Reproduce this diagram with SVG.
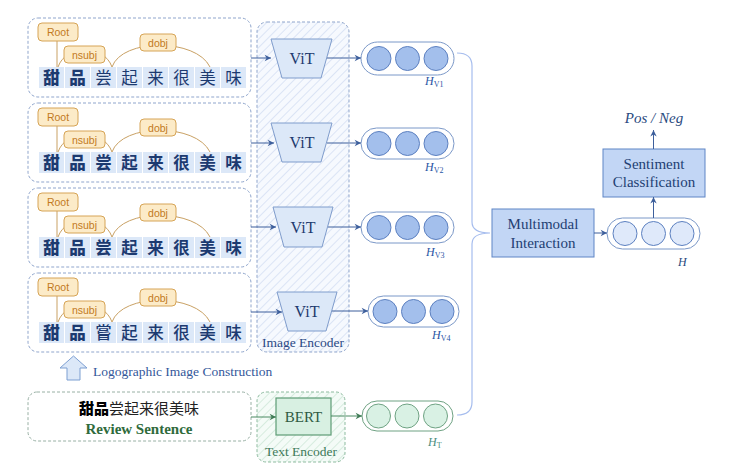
<svg xmlns="http://www.w3.org/2000/svg" width="745" height="476" viewBox="0 0 745 476">
<defs>
<style>
.panel{fill:#fff;stroke:#8fa5cc;stroke-width:1;stroke-dasharray:3,2}
.cell{fill:#dce8f8}
.ch{font-family:"Noto Sans CJK SC",sans-serif;font-size:16.5px;fill:#1c3a70;text-anchor:middle}
.lab{fill:#fcebc8;stroke:#d6a456;stroke-width:1}
.labt{font-family:"Liberation Sans",Arial,sans-serif;font-size:10.5px;fill:#c27a1e;text-anchor:middle}
.arc{fill:none;stroke:#c9a164;stroke-width:1}
.vit{fill:#dce8f8;stroke:#7f9ccc;stroke-width:1}
.ser{font-family:"Liberation Serif","Times New Roman",serif}
.vitt{font-size:16px;fill:#1e3a6e;text-anchor:middle}
.cap{fill:#fff;stroke:#7b98c8;stroke-width:1}
.cir{fill:#a3bfec;stroke:#5c80c0;stroke-width:1}
.cap2{fill:#fff;stroke:#6fa283;stroke-width:1}
.cir2{fill:#d9f1e4;stroke:#6fa283;stroke-width:1}
.cir3{fill:#dfe9fa;stroke:#5c80c0;stroke-width:1}
.hl{font-family:"Liberation Serif",serif;font-style:italic;font-size:12px;fill:#2a55a5}
.hs{font-size:8px;font-style:normal}
.ar{fill:none;stroke:#3d5f9c;stroke-width:1}
.arg{fill:none;stroke:#4a8a62;stroke-width:1}
.box{fill:#c2d6f5;stroke:#5f85c5;stroke-width:1}
.boxt{font-size:15px;fill:#233f73;text-anchor:middle}
</style>
<pattern id="hb" width="6" height="6" patternUnits="userSpaceOnUse" patternTransform="rotate(45)">
<rect width="6" height="6" fill="#f6f9fe"/>
<line x1="0" y1="0" x2="0" y2="6" stroke="#c9d7ef" stroke-width="1.2"/>
</pattern>
<pattern id="hg" width="6" height="6" patternUnits="userSpaceOnUse" patternTransform="rotate(45)">
<rect width="6" height="6" fill="#f4fbf7"/>
<line x1="0" y1="0" x2="0" y2="6" stroke="#c4e3d0" stroke-width="1.2"/>
</pattern>
<marker id="ma" viewBox="0 0 10 10" refX="9" refY="5" markerWidth="8" markerHeight="8" orient="auto" markerUnits="userSpaceOnUse">
<path d="M1,1 L9,5 L1,9 L3.5,5 Z" fill="#3d5f9c"/>
</marker>
<marker id="mg" viewBox="0 0 10 10" refX="9" refY="5" markerWidth="8" markerHeight="8" orient="auto" markerUnits="userSpaceOnUse">
<path d="M1,1 L9,5 L1,9 L3.5,5 Z" fill="#3f7a55"/>
</marker>
<g id="tree">
<rect class="panel" x="28" y="18" width="223" height="79" rx="10"/>
<g>
<rect class="cell" x="39" y="67" width="25" height="21"/>
<rect class="cell" x="65" y="67" width="25" height="21"/>
<rect class="cell" x="91" y="67" width="25" height="21"/>
<rect class="cell" x="117" y="67" width="25" height="21"/>
<rect class="cell" x="143" y="67" width="25" height="21"/>
<rect class="cell" x="169" y="67" width="25" height="21"/>
<rect class="cell" x="195" y="67" width="25" height="21"/>
<rect class="cell" x="221" y="67" width="25" height="21"/>
</g>
<line class="arc" x1="57" y1="41" x2="57" y2="67"/>
<path class="arc" d="M58,67 C66,44 104,44 112,67"/>
<path class="arc" d="M112,67 C122,38 196,38 210,67"/>
<rect class="lab" x="38" y="23" width="40" height="18" rx="4"/>
<text class="labt" x="58" y="36">Root</text>
<rect class="lab" x="64" y="46" width="41" height="17" rx="4"/>
<text class="labt" x="84.5" y="58.5">nsubj</text>
<rect class="lab" x="140" y="34" width="36" height="17" rx="4"/>
<text class="labt" x="158" y="46.5">dobj</text>
</g>
</defs>

<!-- encoders backgrounds -->
<g id="image-encoder">
<rect x="257" y="22" width="92" height="330" rx="10" fill="url(#hb)" stroke="#8fa5cc" stroke-dasharray="3,2"/>
<text class="ser" x="303" y="347" font-size="13.5" fill="#2b4a85" text-anchor="middle">Image Encoder</text>
</g>
<g id="text-encoder">
<rect x="257" y="392" width="88" height="70" rx="9" fill="url(#hg)" stroke="#8dbb9f" stroke-dasharray="3,2"/>
<text class="ser" x="301" y="456" font-size="13.5" fill="#3e7a5a" text-anchor="middle">Text Encoder</text>
</g>

<!-- panels -->
<g id="panel1">
<use href="#tree"/>
<g class="ch">
<text x="51.5" y="84" font-weight="900">甜</text><text x="77.5" y="84" font-weight="900">品</text><text x="103.5" y="84">尝</text><text x="129.5" y="84">起</text><text x="155.5" y="84">来</text><text x="181.5" y="84">很</text><text x="207.5" y="84">美</text><text x="233.5" y="84">味</text>
</g>
</g>
<g id="panel2" transform="translate(0,85)">
<use href="#tree"/>
<g class="ch" font-weight="700">
<text x="51.5" y="84" font-weight="900">甜</text><text x="77.5" y="84" font-weight="900">品</text><text x="103.5" y="84">尝</text><text x="129.5" y="84">起</text><text x="155.5" y="84">来</text><text x="181.5" y="84">很</text><text x="207.5" y="84">美</text><text x="233.5" y="84">味</text>
</g>
</g>
<g id="panel3" transform="translate(0,170)">
<use href="#tree"/>
<g class="ch" font-weight="700">
<text x="51.5" y="84" font-weight="900">甜</text><text x="77.5" y="84" font-weight="900">品</text><text x="103.5" y="84">尝</text><text x="129.5" y="84">起</text><text x="155.5" y="84">来</text><text x="181.5" y="84">很</text><text x="207.5" y="84">美</text><text x="233.5" y="84">味</text>
</g>
</g>
<g id="panel4" transform="translate(0,255)">
<use href="#tree"/>
<g class="ch" font-weight="500">
<text x="51.5" y="84" font-weight="900">甜</text><text x="77.5" y="84" font-weight="900">品</text><text x="103.5" y="84">嘗</text><text x="129.5" y="84">起</text><text x="155.5" y="84">来</text><text x="181.5" y="84">很</text><text x="207.5" y="84">美</text><text x="233.5" y="84">味</text>
</g>
</g>

<!-- ViT nodes -->
<g id="vit1"><path class="vit" d="M271,39 L332,39 L321,78 L282,78 Z"/><text class="ser vitt" x="302" y="64">ViT</text></g>
<g id="vit2"><path class="vit" d="M271,123 L332,123 L321,162 L282,162 Z"/><text class="ser vitt" x="302" y="148">ViT</text></g>
<g id="vit3"><path class="vit" d="M273,207 L333,207 L322,247 L284,247 Z"/><text class="ser vitt" x="303" y="233">ViT</text></g>
<g id="vit4"><path class="vit" d="M277,292 L337,292 L326,331 L288,331 Z"/><text class="ser vitt" x="307" y="317">ViT</text></g>

<!-- H_V capsules -->
<g id="hv1">
<rect class="cap" x="361" y="42" width="93" height="33" rx="16.5"/>
<circle class="cir" cx="379" cy="58.5" r="12"/><circle class="cir" cx="407.5" cy="58.5" r="12"/><circle class="cir" cx="436" cy="58.5" r="12"/>
<text class="hl" x="425" y="85">H<tspan class="hs" dy="2">V1</tspan></text>
</g>
<g id="hv2">
<rect class="cap" x="361" y="128" width="93" height="31" rx="15.5"/>
<circle class="cir" cx="379" cy="143.5" r="12"/><circle class="cir" cx="407.5" cy="143.5" r="12"/><circle class="cir" cx="436" cy="143.5" r="12"/>
<text class="hl" x="425" y="171">H<tspan class="hs" dy="2">V2</tspan></text>
</g>
<g id="hv3">
<rect class="cap" x="361" y="212" width="93" height="31" rx="15.5"/>
<circle class="cir" cx="379" cy="227.5" r="12"/><circle class="cir" cx="407.5" cy="227.5" r="12"/><circle class="cir" cx="436" cy="227.5" r="12"/>
<text class="hl" x="426" y="256">H<tspan class="hs" dy="2">V3</tspan></text>
</g>
<g id="hv4">
<rect class="cap" x="368" y="296" width="91" height="31" rx="15.5"/>
<circle class="cir" cx="385" cy="311.5" r="12"/><circle class="cir" cx="413.5" cy="311.5" r="12"/><circle class="cir" cx="442" cy="311.5" r="12"/>
<text class="hl" x="432" y="339">H<tspan class="hs" dy="2">V4</tspan></text>
</g>

<!-- Logographic arrow -->
<g id="logo">
<path d="M73.5,356 L87,368 L80,368 L80,380 L67,380 L67,368 L60,368 Z" fill="#dce8f8" stroke="#7d9fd2" stroke-width="1"/>
<text class="ser" x="93" y="376" font-size="13.5" fill="#34579a">Logographic Image Construction</text>
</g>

<!-- Review sentence -->
<g id="review">
<rect x="28" y="392" width="223" height="49" rx="9" fill="#fff" stroke="#98b0a4" stroke-dasharray="3,2"/>
<text x="139" y="414" font-family="'Noto Sans CJK SC',sans-serif" font-size="15" text-anchor="middle" fill="#222"><tspan font-weight="900" fill="#000">甜品</tspan>尝起来很美味</text>
<text class="ser" x="139" y="434" font-size="15" font-weight="bold" fill="#2f6b3c" text-anchor="middle">Review Sentence</text>
</g>

<!-- BERT -->
<g id="bert">
<rect x="276" y="398" width="55" height="37" fill="#d8f0e2" stroke="#5e9c76" stroke-width="1.2"/>
<text class="ser" x="303.5" y="422" font-size="15" fill="#2f5a42" text-anchor="middle">BERT</text>
</g>

<!-- H_T -->
<g id="ht">
<rect class="cap2" x="362" y="401" width="91" height="30" rx="15"/>
<circle class="cir2" cx="378.5" cy="416" r="12"/><circle class="cir2" cx="407" cy="416" r="12"/><circle class="cir2" cx="435.5" cy="416" r="12"/>
<text class="hl" x="428" y="446" style="fill:#4b8e7e">H<tspan class="hs" dy="2">T</tspan></text>
</g>

<!-- Multimodal -->
<g id="multimodal">
<rect class="box" x="492" y="209" width="102" height="48"/>
<text class="ser boxt" x="543" y="229">Multimodal</text>
<text class="ser boxt" x="543" y="248">Interaction</text>
</g>

<!-- H -->
<g id="h">
<rect class="cap" x="607" y="218" width="93" height="31" rx="15.5"/>
<circle class="cir3" cx="625" cy="233.5" r="12"/><circle class="cir3" cx="653.5" cy="233.5" r="12"/><circle class="cir3" cx="682" cy="233.5" r="12"/>
<text class="hl" x="678" y="266" style="fill:#2a4a80">H</text>
</g>

<!-- Sentiment -->
<g id="sentiment">
<rect class="box" x="603" y="149" width="102" height="48"/>
<text class="ser boxt" x="654" y="169">Sentiment</text>
<text class="ser boxt" x="654" y="187">Classification</text>
</g>
<g id="output">
<text class="ser" x="654" y="123" font-size="15" font-style="italic" fill="#2a4a80" text-anchor="middle">Pos / Neg</text>
</g>

<!-- connectors -->
<g id="connectors">
<line class="ar" x1="251" y1="58" x2="271" y2="58" marker-end="url(#ma)"/>
<line class="ar" x1="251" y1="143" x2="274" y2="143" marker-end="url(#ma)"/>
<line class="ar" x1="251" y1="227" x2="276" y2="227" marker-end="url(#ma)"/>
<line class="ar" x1="251" y1="312" x2="282" y2="312" marker-end="url(#ma)"/>
<line class="ar" x1="327" y1="58" x2="361" y2="58" marker-end="url(#ma)"/>
<line class="ar" x1="327" y1="143" x2="361" y2="143" marker-end="url(#ma)"/>
<line class="ar" x1="328" y1="227" x2="361" y2="227" marker-end="url(#ma)"/>
<line class="ar" x1="332" y1="311" x2="368" y2="311" marker-end="url(#ma)"/>
<line class="arg" x1="251" y1="417" x2="276" y2="417" marker-end="url(#mg)"/>
<line class="arg" x1="331" y1="416" x2="362" y2="416" marker-end="url(#mg)"/>
<path d="M457,53 Q472,53 472,66 L472,222 Q472,233 490,233 Q472,233 472,244 L472,402 Q472,415 457,415" fill="none" stroke="#a6bdee" stroke-width="1.2"/>
<line class="ar" x1="594" y1="233" x2="607" y2="233" marker-end="url(#ma)"/>
<line class="ar" x1="653.5" y1="218" x2="653.5" y2="197" marker-end="url(#ma)"/>
<line class="ar" x1="653.5" y1="149" x2="653.5" y2="130" marker-end="url(#ma)"/>
</g>
</svg>
